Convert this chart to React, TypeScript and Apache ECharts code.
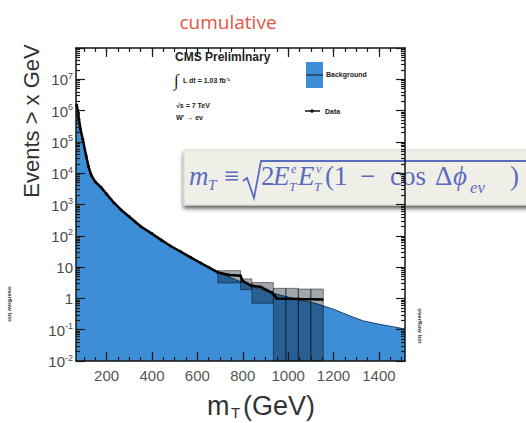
import React, { useEffect, useRef } from "react";
import * as echarts from "echarts";

// ---- data ----
const bgMass = [65, 70, 73, 78, 85, 95, 110, 120, 132, 150, 176, 200, 233, 264, 300, 352, 400, 440, 480, 527, 570, 615, 650, 690, 740, 790, 835, 880, 936, 1000, 1070, 1130, 1160, 1200, 1275, 1332, 1400, 1460, 1515];
const bgEvents = [1.4e6, 1.2e6, 1.0e6, 5e5, 2.4e5, 1.15e5, 3.4e4, 1.6e4, 8.5e3, 5.2e3, 3.4e3, 2.1e3, 1.1e3, 660, 400, 190, 115, 72, 47, 30, 20, 13, 9.6, 6.8, 4.8, 3.4, 2.5, 1.9, 1.45, 1.1, 0.85, 0.66, 0.56, 0.45, 0.27, 0.19, 0.15, 0.125, 0.105];

const dataMass = [68, 73, 78, 85, 95, 110, 120, 132, 150, 176, 200, 233, 264, 300, 352, 400, 440, 480, 527, 570, 615, 650, 690, 740, 790, 800, 835, 880, 930, 950, 1050, 1150];
const dataEvents = [1.5e6, 1.0e6, 5.2e5, 2.5e5, 1.2e5, 3.5e4, 1.65e4, 8.7e3, 5.3e3, 3.5e3, 2.15e3, 1.12e3, 670, 405, 195, 117, 74, 48, 31, 20.5, 13.5, 9.8, 6.8, 5.6, 5.3, 3.6, 2.6, 2.3, 1.5, 1.0, 0.95, 0.92];

// error boxes on data: [mass low, mass high, events low, events high]
const errLowMass = [690, 790, 840, 935, 990, 1045, 1100];
const errHighMass = [790, 840, 935, 990, 1045, 1100, 1155];
const errLowEvents = [3.1, 1.9, 0.7, 0.01, 0.01, 0.01, 0.01];
const errHighEvents = [7.7, 4.2, 3.2, 2.1, 2.1, 2.0, 2.0];

const xLabels = [200, 400, 600, 800, 1000, 1200, 1400];
const xMajorTicks = [200, 400, 600, 800, 1000, 1200, 1400];
const yLabels = [0.01, 0.1, 1, 10, 100, 1e3, 1e4, 1e5, 1e6, 1e7];
const yMajorTicks = [0.01, 0.1, 1, 10, 100, 1e3, 1e4, 1e5, 1e6, 1e7, 1e8];
const xMinorTicks: number[] = [];
for (let m = 100; m <= 1500; m += 50) xMinorTicks.push(m);
const yMinorTicks: number[] = [];
for (let e = -2; e < 8; e++) for (let k = 2; k <= 9; k++) yMinorTicks.push(k * Math.pow(10, e));

const X_MIN = 65;
const X_MAX = 1515;
const Y_MIN = 0.01;
const Y_MAX = 1e8;

const formulaColor = "#5b6bbf";
const smallFont = "bold 7px Liberation Sans";

export default function App() {
  const ref = useRef<HTMLDivElement>(null);
  useEffect(() => {
    if (!ref.current) return;
    const chart = echarts.init(ref.current, undefined, { renderer: "svg" });
    const axisLine = { show: true, onZero: false, lineStyle: { color: "#151515", width: 1.5 } };
    const tickStyle = { color: "#1a1a1a", width: 1.2 };
    const xBase = { type: "value", min: X_MIN, max: X_MAX, z: 10, splitLine: { show: false } };
    const yBase = { type: "log", logBase: 10, min: Y_MIN, max: Y_MAX, z: 10, splitLine: { show: false } };
    const yFmt = (v: number) => {
      const e = Math.round(Math.log10(v));
      if (e === 0) return "{b|1}";
      if (e === 1) return "{b|10}";
      return "{b|10}{s|" + e + "}";
    };
    const option: any = {
      animation: false,
      backgroundColor: "#ffffff",
      grid: { left: 76, right: 121, top: 48, bottom: 62 },
      xAxis: [
        {
          ...xBase, position: "bottom", axisLine,
          axisTick: { inside: true, length: 9, customValues: xMajorTicks, lineStyle: tickStyle },
          axisLabel: { customValues: xLabels, formatter: (v: number) => String(v), color: "#555", fontSize: 15, fontFamily: "Liberation Sans", margin: 7 },
        },
        {
          ...xBase, position: "bottom", axisLine: { show: false, onZero: false },
          axisTick: { inside: true, length: 4, customValues: xMinorTicks, lineStyle: tickStyle },
          axisLabel: { show: false },
        },
        {
          ...xBase, position: "top", axisLine,
          axisTick: { inside: true, length: 9, customValues: xMajorTicks, lineStyle: tickStyle },
          axisLabel: { show: false },
        },
        {
          ...xBase, position: "top", axisLine: { show: false, onZero: false },
          axisTick: { inside: true, length: 4, customValues: xMinorTicks, lineStyle: tickStyle },
          axisLabel: { show: false },
        },
      ],
      yAxis: [
        {
          ...yBase, position: "left", axisLine,
          axisTick: { inside: true, length: 9, customValues: yMajorTicks, lineStyle: tickStyle },
          axisLabel: {
            customValues: yLabels, hideOverlap: false,
            formatter: yFmt, color: "#444", margin: 3,
            rich: {
              b: { fontSize: 15, fontFamily: "Liberation Sans", color: "#4a4a4a", verticalAlign: "bottom", lineHeight: 16 },
              s: { fontSize: 9, fontFamily: "Liberation Sans", color: "#4a4a4a", verticalAlign: "top", lineHeight: 9 },
            },
          },
        },
        {
          ...yBase, position: "left", axisLine: { show: false, onZero: false },
          axisTick: { inside: true, length: 4, customValues: yMinorTicks, lineStyle: tickStyle },
          axisLabel: { show: false },
        },
        {
          ...yBase, position: "right", axisLine,
          axisTick: { inside: true, length: 9, customValues: yMajorTicks, lineStyle: tickStyle },
          axisLabel: { show: false },
        },
        {
          ...yBase, position: "right", axisLine: { show: false, onZero: false },
          axisTick: { inside: true, length: 4, customValues: yMinorTicks, lineStyle: tickStyle },
          axisLabel: { show: false },
        },
      ],
      series: [
        {
          type: "line", name: "Background", xAxisIndex: 0, yAxisIndex: 0,
          data: bgMass.map((m, i) => [m, bgEvents[i]]),
          symbol: "none", z: 2,
          lineStyle: { color: "#1d3f66", width: 1 },
          areaStyle: { color: "#3d8ed6", opacity: 1, origin: "start" },
        },
        {
          type: "custom", name: "Data uncertainty", xAxisIndex: 0, yAxisIndex: 0, z: 3,
          encode: { x: [0, 1], y: [2, 3] },
          data: errLowMass.map((m, i) => [m, errHighMass[i], errLowEvents[i], errHighEvents[i]]),
          renderItem: (params: any, api: any) => {
            const p0 = api.coord([api.value(0), api.value(3)]);
            const p1 = api.coord([api.value(1), api.value(2)]);
            return {
              type: "rect",
              shape: { x: p0[0], y: p0[1], width: p1[0] - p0[0], height: p1[1] - p0[1] },
              style: { fill: "rgba(10,20,40,0.38)", stroke: "rgba(0,0,0,0.55)", lineWidth: 0.8 },
            };
          },
        },
        {
          type: "line", name: "Data", xAxisIndex: 0, yAxisIndex: 0, z: 4,
          data: dataMass.map((m, i) => [m, dataEvents[i]]),
          symbol: "circle", symbolSize: 3,
          itemStyle: { color: "#000" },
          lineStyle: { color: "#000", width: 2.5 },
        },
      ],
      graphic: [
        { type: "text", x: 228, y: 22, style: { text: "cumulative", fill: "#e8533f", font: "19px Open Sans", align: "center", verticalAlign: "middle" } },
        { type: "text", x: 31, y: 121, rotation: Math.PI / 2, style: { text: "Events > x GeV", fill: "#333", font: "22px Liberation Sans", align: "center", verticalAlign: "middle" } },
        // x axis title m_T(GeV)
        { type: "text", x: 207, y: 406, style: { text: "m", fill: "#333", font: "27px Liberation Sans", verticalAlign: "middle" } },
        { type: "text", x: 231, y: 412, style: { text: "T", fill: "#333", font: "15px Liberation Sans", verticalAlign: "middle" } },
        { type: "text", x: 243, y: 406, style: { text: "(GeV)", fill: "#333", font: "27px Liberation Sans", verticalAlign: "middle" } },
        // overflow bin notes
        { type: "text", x: 10, y: 304, rotation: -Math.PI / 2, style: { text: "overflow bin", fill: "#333", font: "bold 6px Liberation Sans", align: "center", verticalAlign: "middle" } },
        { type: "text", x: 420, y: 326, rotation: -Math.PI / 2, style: { text: "overflow bin", fill: "#333", font: "bold 6px Liberation Sans", align: "center", verticalAlign: "middle" } },
        // CMS labels
        { type: "text", x: 175, y: 57, style: { text: "CMS Preliminary", fill: "#222", font: "bold 12px Liberation Sans", verticalAlign: "middle" } },
        { type: "text", x: 174, y: 80, style: { text: "∫", fill: "#222", font: "17px Liberation Serif", verticalAlign: "middle" } },
        { type: "text", x: 183, y: 80, style: { text: "L dt = 1.03 fb⁻¹", fill: "#222", font: smallFont, verticalAlign: "middle" } },
        { type: "text", x: 176, y: 105, style: { text: "√s = 7 TeV", fill: "#222", font: smallFont, verticalAlign: "middle" } },
        { type: "text", x: 176, y: 117, style: { text: "W' → eν", fill: "#222", font: smallFont, verticalAlign: "middle" } },
        // legend
        { type: "rect", shape: { x: 306, y: 62, width: 17, height: 26 }, style: { fill: "#3d8ed6" } },
        { type: "line", shape: { x1: 306, y1: 75, x2: 323, y2: 75 }, style: { stroke: "#1d3f66", lineWidth: 1.5 } },
        { type: "text", x: 326, y: 74, style: { text: "Background", fill: "#222", font: smallFont, verticalAlign: "middle" } },
        { type: "line", shape: { x1: 305, y1: 111, x2: 320, y2: 111 }, style: { stroke: "#111", lineWidth: 1.5 } },
        { type: "circle", shape: { cx: 312, cy: 111, r: 1.8 }, style: { fill: "#111" } },
        { type: "text", x: 325, y: 111, style: { text: "Data", fill: "#222", font: smallFont, verticalAlign: "middle" } },
        // formula box
        {
          type: "group", z: 100,
          children: [
            { type: "rect", shape: { x: 184, y: 150, width: 360, height: 55 }, style: { fill: "#efefe8", stroke: "#d8d8d0", lineWidth: 1, shadowColor: "rgba(0,0,0,0.65)", shadowBlur: 4, shadowOffsetY: 3, shadowOffsetX: 0 } },
            { type: "text", x: 189, y: 176, style: { text: "m", fill: formulaColor, font: "italic 27px Liberation Serif", verticalAlign: "middle" } },
            { type: "text", x: 208, y: 185, style: { text: "T", fill: formulaColor, font: "italic 15px Liberation Serif", verticalAlign: "middle" } },
            { type: "text", x: 224, y: 176, style: { text: "≡", fill: formulaColor, font: "27px Liberation Serif", verticalAlign: "middle" } },
            { type: "polyline", shape: { points: [[243, 181], [247, 178], [254, 198], [261, 161], [530, 161]] }, style: { stroke: formulaColor, lineWidth: 1.8, fill: null } },
            { type: "text", x: 261, y: 176, style: { text: "2", fill: formulaColor, font: "27px Liberation Serif", verticalAlign: "middle" } },
            { type: "text", x: 273, y: 176, style: { text: "E", fill: formulaColor, font: "italic 27px Liberation Serif", verticalAlign: "middle" } },
            { type: "text", x: 291, y: 169, style: { text: "e", fill: formulaColor, font: "italic 12px Liberation Serif", verticalAlign: "middle" } },
            { type: "text", x: 289, y: 186, style: { text: "T", fill: formulaColor, font: "italic 13px Liberation Serif", verticalAlign: "middle" } },
            { type: "text", x: 298, y: 176, style: { text: "E", fill: formulaColor, font: "italic 27px Liberation Serif", verticalAlign: "middle" } },
            { type: "text", x: 316, y: 169, style: { text: "ν", fill: formulaColor, font: "italic 12px Liberation Serif", verticalAlign: "middle" } },
            { type: "text", x: 314, y: 186, style: { text: "T", fill: formulaColor, font: "italic 13px Liberation Serif", verticalAlign: "middle" } },
            { type: "text", x: 325, y: 176, style: { text: "(1", fill: formulaColor, font: "27px Liberation Serif", verticalAlign: "middle" } },
            { type: "text", x: 360, y: 176, style: { text: "−", fill: formulaColor, font: "27px Liberation Serif", verticalAlign: "middle" } },
            { type: "text", x: 390, y: 176, style: { text: "cos", fill: formulaColor, font: "27px Liberation Serif", verticalAlign: "middle" } },
            { type: "text", x: 435, y: 176, style: { text: "Δ", fill: formulaColor, font: "27px Liberation Serif", verticalAlign: "middle" } },
            { type: "text", x: 453, y: 176, style: { text: "ϕ", fill: formulaColor, font: "italic 27px Liberation Serif", verticalAlign: "middle" } },
            { type: "text", x: 470, y: 187, style: { text: "eν", fill: formulaColor, font: "italic 17px Liberation Serif", verticalAlign: "middle" } },
            { type: "text", x: 510, y: 176, style: { text: ")", fill: formulaColor, font: "27px Liberation Serif", verticalAlign: "middle" } },
          ],
        },
      ],
    };
    chart.setOption(option);
    return () => chart.dispose();
  }, []);
  return (
    <div
      ref={ref}
      style={{ position: "fixed", left: 0, top: 0, width: 526, height: 423, background: "#fff" }}
    />
  );
}
